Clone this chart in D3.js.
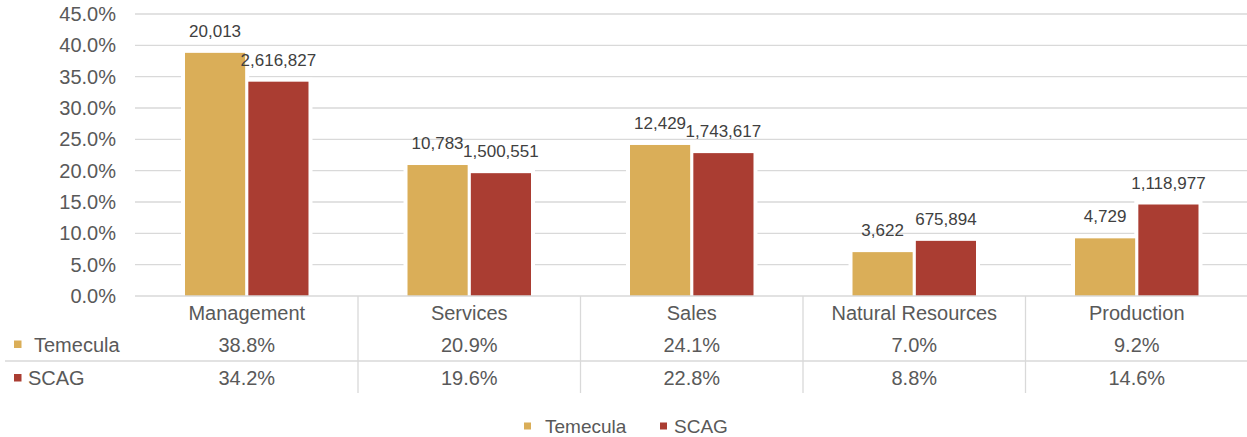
<!DOCTYPE html>
<html>
<head>
<meta charset="utf-8">
<title>Occupation share</title>
<script src="https://d3js.org/d3.v7.min.js"></script>
<style>
  body { margin: 0; background: #fff; }
  svg text { font-family: "Liberation Sans", Arial, sans-serif; }
</style>
</head>
<body>
<svg id="chart"></svg>
<script>
// data
var categories = ["Management", "Services", "Sales", "Natural Resources", "Production"];
var series = ["Temecula", "SCAG"];
var temeculaShare = [0.388, 0.209, 0.241, 0.070, 0.092];
var scagShare = [0.342, 0.196, 0.228, 0.088, 0.146];
var temeculaCount = [20013, 10783, 12429, 3622, 4729];
var scagCount = [2616827, 1500551, 1743617, 675894, 1118977];
var yTicks = [0, 0.05, 0.10, 0.15, 0.20, 0.25, 0.30, 0.35, 0.40, 0.45];
var colors = ["#DAAE58", "#AA3D32"];

var width = 1247, height = 437;
var svg = d3.select("#chart").attr("width", width).attr("height", height);

var x0 = d3.scaleBand().domain(categories).range([135.5, 1248]);
var bw = x0.bandwidth();
var x1 = d3.scaleBand().domain(series).range([bw * 0.2225, bw * 0.7775]).paddingInner(0.05);
var y = d3.scaleLinear().domain([0, 0.45]).range([296, 14]);

var rows = categories.map(function(c, i) {
  return { cat: c, values: [
    { s: "Temecula", v: temeculaShare[i], n: temeculaCount[i], c: colors[0] },
    { s: "SCAG", v: scagShare[i], n: scagCount[i], c: colors[1] }
  ]};
});

// gridlines
svg.append("g").selectAll("line").data(yTicks.slice(1)).join("line")
  .attr("x1", 135).attr("x2", width)
  .attr("y1", function(d) { return y(d); }).attr("y2", function(d) { return y(d); })
  .attr("stroke", "#D9D9D9").attr("stroke-width", 1.3);

// y axis labels
var yAxis = svg.append("g").attr("transform", "translate(116,0)")
  .call(d3.axisLeft(y).tickValues(yTicks).tickFormat(d3.format(".1%")).tickSize(0).tickPadding(0));
yAxis.select(".domain").remove();
yAxis.selectAll("text").attr("fill", "#595959").style("font-size", "20px")
  .style("font-family", "'Liberation Sans', Arial, sans-serif");

// bars
var groups = svg.append("g").selectAll("g").data(rows).join("g")
  .attr("transform", function(d) { return "translate(" + x0(d.cat) + ",0)"; });

groups.selectAll("rect.pad").data(function(d) { return d.values; }).join("rect")
  .attr("class", "pad")
  .attr("x", function(d) { return x1(d.s) - 4; })
  .attr("y", function(d) { return y(d.v) - 4; })
  .attr("width", x1.bandwidth() + 8)
  .attr("height", function(d) { return y(0) - y(d.v) + 4; })
  .attr("fill", "#fff");

groups.selectAll("rect.bar").data(function(d) { return d.values; }).join("rect")
  .attr("class", "bar")
  .attr("x", function(d) { return x1(d.s); })
  .attr("y", function(d) { return y(d.v); })
  .attr("width", x1.bandwidth())
  .attr("height", function(d) { return y(0) - y(d.v); })
  .attr("fill", function(d) { return d.c; });

groups.selectAll("text.lbl").data(function(d) { return d.values; }).join("text")
  .attr("class", "lbl")
  .attr("x", function(d) { return x1(d.s) + x1.bandwidth() / 2; })
  .attr("y", function(d) { return y(d.v) - 16; })
  .attr("text-anchor", "middle")
  .attr("fill", "#404040")
  .style("font-size", "17px")
  .text(function(d) { return d3.format(",")(d.n); });

// data table
var tbl = svg.append("g");
tbl.append("line").attr("x1", 135).attr("x2", width).attr("y1", y(0)).attr("y2", y(0))
  .attr("stroke", "#D9D9D9").attr("stroke-width", 1.3);
tbl.append("line").attr("x1", 5).attr("x2", width).attr("y1", 361).attr("y2", 361)
  .attr("stroke", "#D9D9D9").attr("stroke-width", 1.3);
tbl.selectAll("line.v").data(categories.slice(1)).join("line")
  .attr("class", "v")
  .attr("x1", function(d) { return x0(d); }).attr("x2", function(d) { return x0(d); })
  .attr("y1", y(0)).attr("y2", 393)
  .attr("stroke", "#D9D9D9").attr("stroke-width", 1.3);

tbl.selectAll("text.cat").data(categories).join("text")
  .attr("class", "cat")
  .attr("x", function(d) { return x0(d) + bw / 2; })
  .attr("y", 320)
  .attr("text-anchor", "middle").attr("fill", "#595959").style("font-size", "20px")
  .text(function(d) { return d; });

var tableRows = [
  { name: "Temecula", vals: temeculaShare, c: colors[0], cy: 344, tx: 34 },
  { name: "SCAG", vals: scagShare, c: colors[1], cy: 377.5, tx: 28 }
];
tableRows.forEach(function(r) {
  tbl.append("rect").attr("x", 14).attr("y", r.cy - 3.5).attr("width", 7.5).attr("height", 7.5).attr("fill", r.c);
  tbl.append("text").attr("x", r.tx).attr("y", r.cy + 7.5).attr("fill", "#595959")
    .style("font-size", "20px").text(r.name);
  tbl.selectAll(null).data(r.vals).join("text")
    .attr("x", function(d, i) { return x0(categories[i]) + bw / 2; })
    .attr("y", r.cy + 7.5)
    .attr("text-anchor", "middle").attr("fill", "#595959").style("font-size", "20px")
    .text(function(d) { return d3.format(".1%")(d); });
});

// legend
var legend = svg.append("g");
var legendX = [524, 660];
series.forEach(function(s, i) {
  legend.append("rect").attr("x", legendX[i]).attr("y", 422.5).attr("width", 7).attr("height", 7).attr("fill", colors[i]);
  legend.append("text").attr("x", legendX[i] + 21 - (i ? 7 : 0)).attr("y", 433)
    .attr("fill", "#595959").style("font-size", "19px").text(s);
});
</script>
</body>
</html>
